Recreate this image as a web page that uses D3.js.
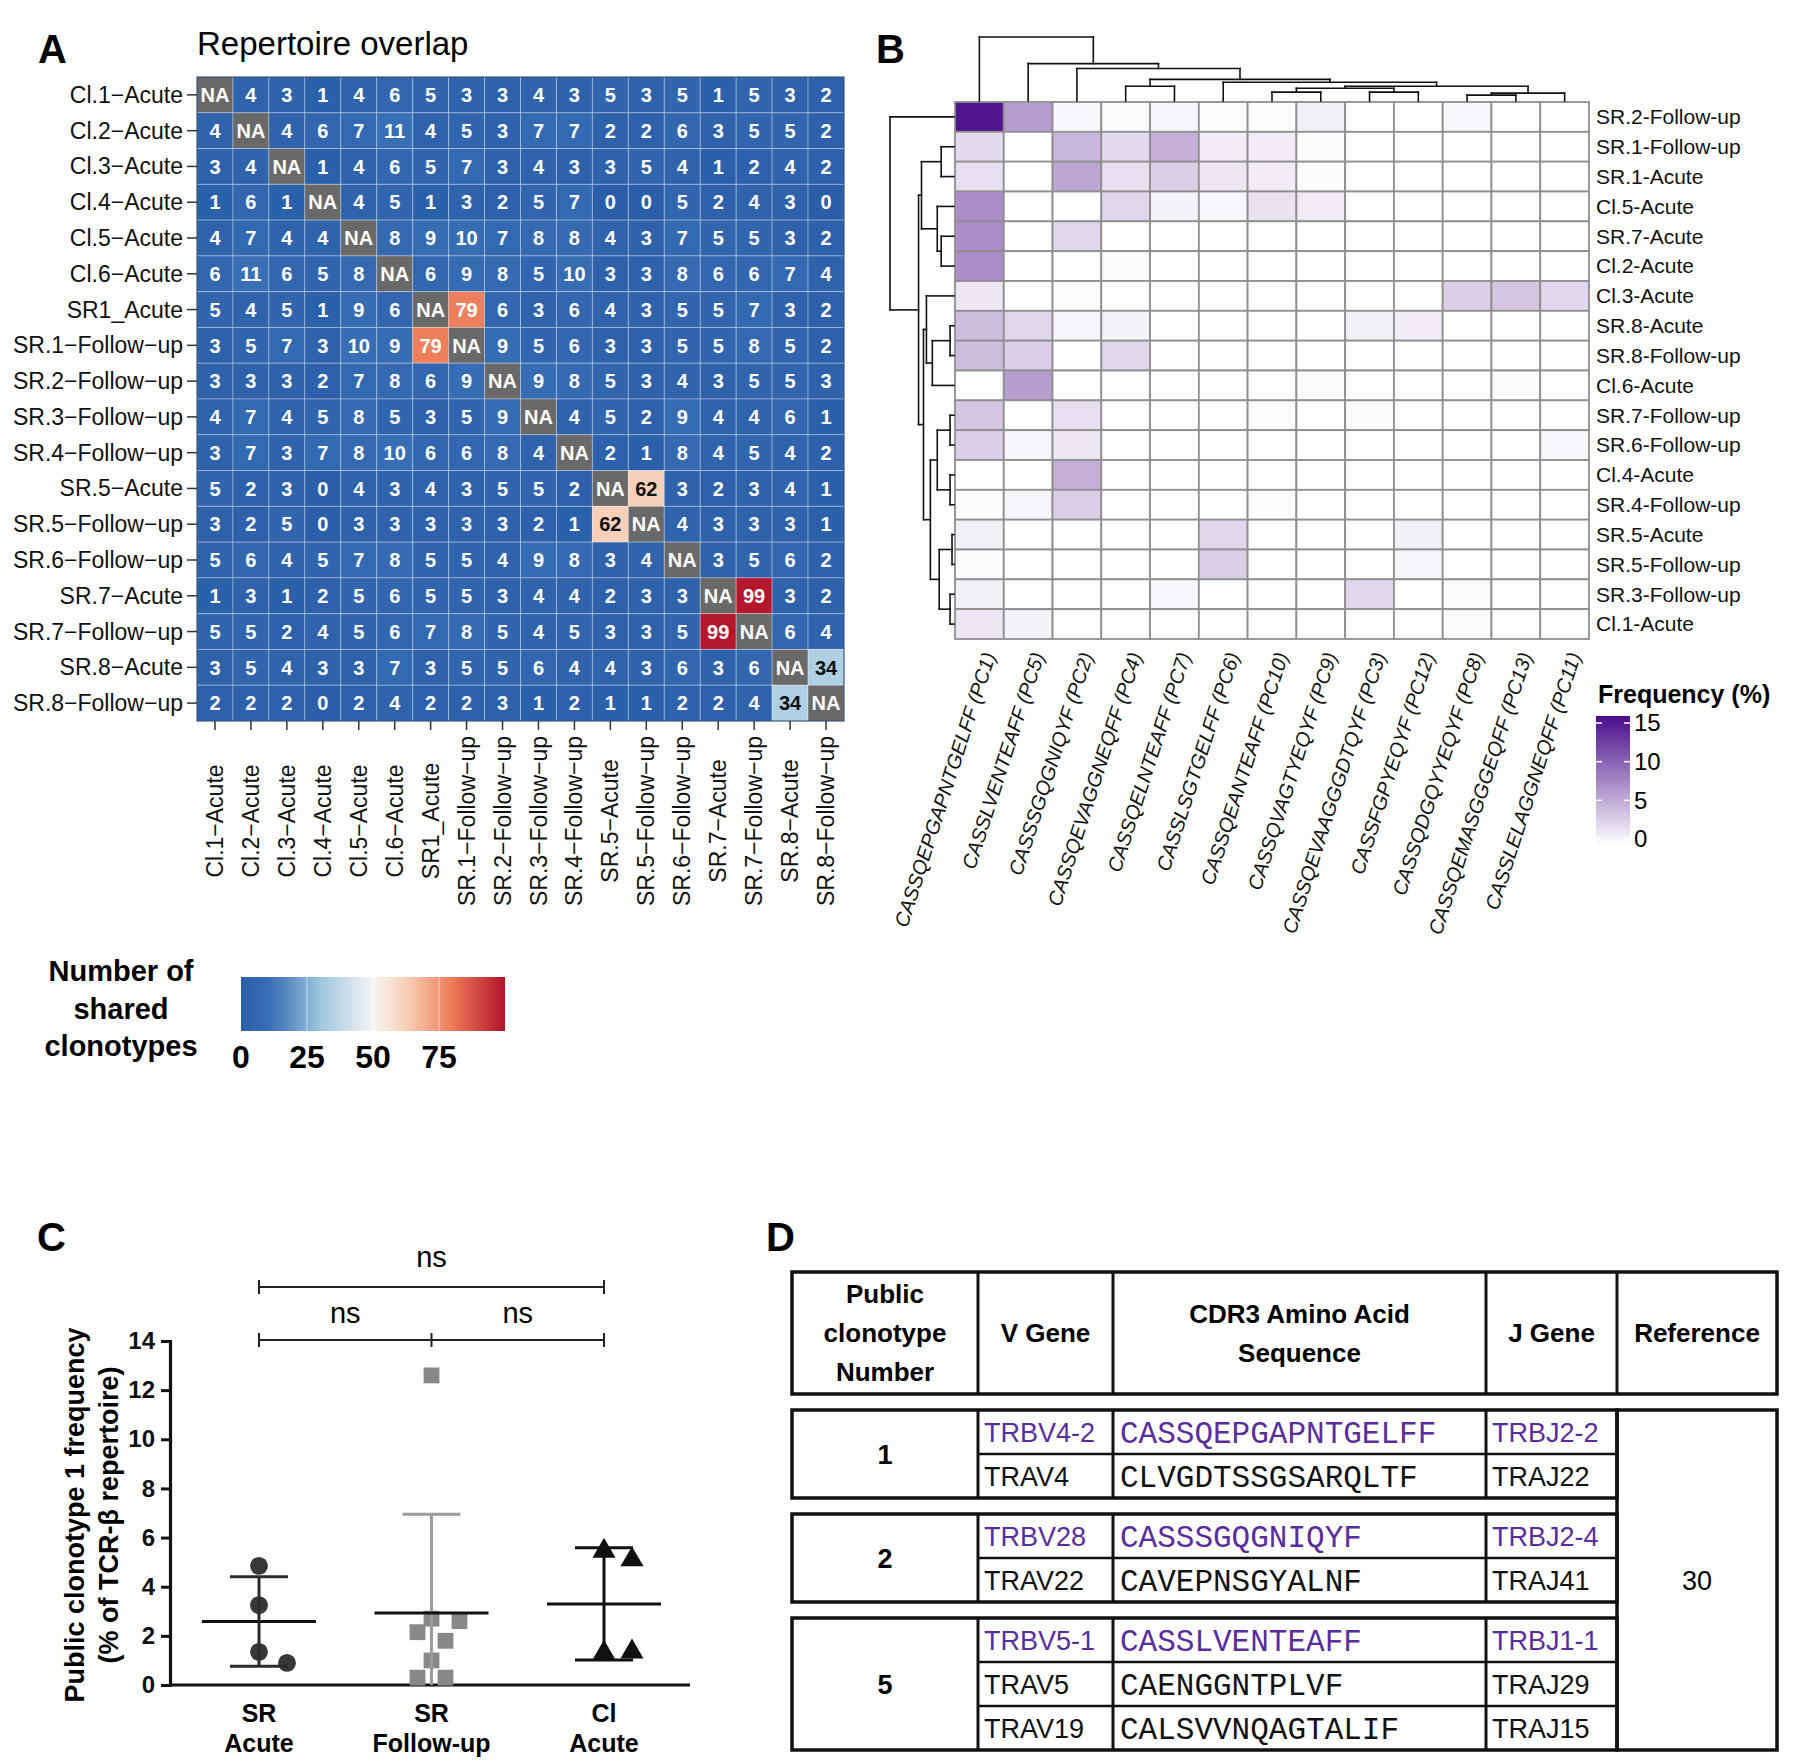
<!DOCTYPE html>
<html>
<head>
<meta charset="utf-8">
<script src="https://cdn.jsdelivr.net/npm/d3@7"></script>
<style>
body { margin:0; background:#fff; }
svg { display:block; font-family:"Liberation Sans", Arial, sans-serif; }
</style>
</head>
<body>
<svg id="fig" width="1800" height="1761"></svg>
<script>
// ---------- panel A : repertoire overlap ----------
var samples = ["Cl.1-Acute","Cl.2-Acute","Cl.3-Acute","Cl.4-Acute","Cl.5-Acute","Cl.6-Acute","SR1_Acute",
  "SR.1-Follow-up","SR.2-Follow-up","SR.3-Follow-up","SR.4-Follow-up","SR.5-Acute","SR.5-Follow-up",
  "SR.6-Follow-up","SR.7-Acute","SR.7-Follow-up","SR.8-Acute","SR.8-Follow-up"];
var overlap = [
  [null,4,3,1,4,6,5,3,3,4,3,5,3,5,1,5,3,2],
  [4,null,4,6,7,11,4,5,3,7,7,2,2,6,3,5,5,2],
  [3,4,null,1,4,6,5,7,3,4,3,3,5,4,1,2,4,2],
  [1,6,1,null,4,5,1,3,2,5,7,0,0,5,2,4,3,0],
  [4,7,4,4,null,8,9,10,7,8,8,4,3,7,5,5,3,2],
  [6,11,6,5,8,null,6,9,8,5,10,3,3,8,6,6,7,4],
  [5,4,5,1,9,6,null,79,6,3,6,4,3,5,5,7,3,2],
  [3,5,7,3,10,9,79,null,9,5,6,3,3,5,5,8,5,2],
  [3,3,3,2,7,8,6,9,null,9,8,5,3,4,3,5,5,3],
  [4,7,4,5,8,5,3,5,9,null,4,5,2,9,4,4,6,1],
  [3,7,3,7,8,10,6,6,8,4,null,2,1,8,4,5,4,2],
  [5,2,3,0,4,3,4,3,5,5,2,null,62,3,2,3,4,1],
  [3,2,5,0,3,3,3,3,3,2,1,62,null,4,3,3,3,1],
  [5,6,4,5,7,8,5,5,4,9,8,3,4,null,3,5,6,2],
  [1,3,1,2,5,6,5,5,3,4,4,2,3,3,null,99,3,2],
  [5,5,2,4,5,6,7,8,5,4,5,3,3,5,99,null,6,4],
  [3,5,4,3,3,7,3,5,5,6,4,4,3,6,3,6,null,34],
  [2,2,2,0,2,4,2,2,3,1,2,1,1,2,2,4,34,null]
];
var overlapTicks = [0,25,50,75];
var overlapMax = 100;
var overlapStops = [0,12,30,50,65,80,100];
var overlapStopColors = ["#2a5ea9","#3a70b5","#9ec5e0","#f5f5f5","#f9c6aa","#ec7a58","#b2132a"];

// ---------- panel B : public clonotype frequency ----------
var freqRows = ["SR.2-Follow-up","SR.1-Follow-up","SR.1-Acute","Cl.5-Acute","SR.7-Acute","Cl.2-Acute",
  "Cl.3-Acute","SR.8-Acute","SR.8-Follow-up","Cl.6-Acute","SR.7-Follow-up","SR.6-Follow-up",
  "Cl.4-Acute","SR.4-Follow-up","SR.5-Acute","SR.5-Follow-up","SR.3-Follow-up","Cl.1-Acute"];
var freqCols = ["CASSQEPGAPNTGELFF (PC1)","CASSLVENTEAFF (PC5)","CASSSGQGNIQYF (PC2)","CASSQEVAGGNEQFF (PC4)",
  "CASSQELNTEAFF (PC7)","CASSLSGTGELFF (PC6)","CASSQEANTEAFF (PC10)","CASSQVAGTYEQYF (PC9)",
  "CASSQEVAAGGGDTQYF (PC3)","CASSFGPYEQYF (PC12)","CASSQDGQYYEQYF (PC8)","CASSQEMASGGGEQFF (PC13)",
  "CASSLELAGGNEQFF (PC11)"];
var freq = [
  [14.5,6,0.5,0.3,0.6,0.1,0.2,1.0,0,0,0.5,0,0],
  [2.2,0,4.5,2.2,5,1.2,1.2,0.3,0,0,0,0,0],
  [2,0,5.5,2,3,1.5,1.2,0.3,0,0,0,0,0],
  [7,0,0,2.5,0.8,0.5,1.8,1.2,0,0,0,0,0],
  [7,0,2.5,0,0,0,0,0,0,0,0,0,0],
  [7,0,0,0.4,0,0,0,0,0,0,0,0,0],
  [1.5,0,0.2,0,0,0,0,0,0,0,3,3.5,2.5],
  [4,2.5,0.6,0.8,0,0,0,0,1,1.2,0,0,0],
  [4,3,0,2.5,0,0,0,0,0,0,0,0,0],
  [0,6,0,0,0,0,0,0.4,0,0,0,0.3,0],
  [3.5,0,2,0,0,0,0.2,0,0.3,0,0,0,0],
  [3,0.6,1.5,0,0,0,0,0,0,0,0,0,0.5],
  [0,0,5,0,0,0,0,0,0,0,0,0,0],
  [0.3,0.7,3,0,0,0,0.2,0,0,0,0,0,0],
  [1,0,0,0,0,2.5,0,0,0,1,0,0,0],
  [0.3,0,0,0,0,3,0,0,0,0.6,0,0,0],
  [1,0,0,0,0.5,0,0,0,2.5,0,0.4,0,0],
  [1.5,0.8,0,0,0,0,0,0,0,0,0.3,0,0]
];
var freqTicks = [0,5,10,15];
// dendrograms: [merge height, left, right]; leaves are display indices
var colTree = [65,0,[38,1,[33,2,[22,[15,3,4],[19,5,[15,[13,[9,6,7],[9,8,9]],[8,[6,10,11],12]]]]]]];
var rowTree = [65,0,[36,[33,[13,1,2],[17,3,[13,4,5]]],
  [31,[28,6,[22,[4,7,8],9]],[24,[17,[4,10,11],[4,12,13]],[15,[2,14,15],[4,16,17]]]]]];

// ---------- panel C : public clonotype 1 frequency ----------
var groupsC = [["SR","Acute"],["SR","Follow-up"],["Cl","Acute"]];
var srAcute = [4.85,3.25,1.35,0.9];
var srFollow = [12.6,2.7,2.6,2.15,1.8,1.0,0.3,0.3];
var clAcute = [5.45,5.1,1.3,1.35];
var yTicksC = [0,2,4,6,8,10,12,14];
var compsC = [[0,2,"ns"],[0,1,"ns"],[1,2,"ns"]];

// ---------- panel D : table ----------
var tableHeader = [["Public","clonotype","Number"],["V Gene"],["CDR3 Amino Acid","Sequence"],["J Gene"],["Reference"]];
var clonotypes = [
  {num:"1", rows:[["TRBV4-2","CASSQEPGAPNTGELFF","TRBJ2-2"],["TRAV4","CLVGDTSSGSARQLTF","TRAJ22"]]},
  {num:"2", rows:[["TRBV28","CASSSGQGNIQYF","TRBJ2-4"],["TRAV22","CAVEPNSGYALNF","TRAJ41"]]},
  {num:"5", rows:[["TRBV5-1","CASSLVENTEAFF","TRBJ1-1"],["TRAV5","CAENGGNTPLVF","TRAJ29"],["TRAV19","CALSVVNQAGTALIF","TRAJ15"]]}
];
var referenceNo = "30";

var svg = d3.select("#fig");
var defs = svg.append("defs");
function minus(s){ return s.replace(/-/g,"\u2212"); }

// ================= A =================
var gA = svg.append("g");
gA.append("text").attr("x",38).attr("y",63).attr("font-size",40).attr("font-weight","bold").text("A");
gA.append("text").attr("x",197).attr("y",55).attr("font-size",33).text("Repertoire overlap");

var xA = d3.scaleBand().domain(d3.range(samples.length)).range([197,844]);
var yA = d3.scaleBand().domain(d3.range(samples.length)).range([77,721]);
var colA = d3.scaleLinear().domain(overlapStops).range(overlapStopColors).clamp(true);

var cellsA = [];
overlap.forEach(function(row,i){ row.forEach(function(v,j){ cellsA.push({i:i,j:j,v:v}); }); });

gA.selectAll("rect.cell").data(cellsA).enter().append("rect")
  .attr("x",d=>xA(d.j)).attr("y",d=>yA(d.i))
  .attr("width",xA.bandwidth()).attr("height",yA.bandwidth())
  .attr("fill",d=>d.v===null?"#696969":colA(d.v))
  .attr("stroke","rgba(255,255,255,0.3)").attr("stroke-width",1);
gA.append("rect").attr("x",197).attr("y",77).attr("width",647).attr("height",644)
  .attr("fill","none").attr("stroke","#1e3a66").attr("stroke-width",1);
gA.selectAll("text.val").data(cellsA).enter().append("text")
  .attr("x",d=>xA(d.j)+xA.bandwidth()/2).attr("y",d=>yA(d.i)+yA.bandwidth()/2)
  .attr("dy","0.36em").attr("text-anchor","middle")
  .attr("font-size",20).attr("font-weight","bold")
  .attr("fill",d=>(d.v!==null && d.v>25 && d.v<70)?"#111":"#fff")
  .text(d=>d.v===null?"NA":d.v);

// row labels + ticks
gA.selectAll("text.rl").data(samples).enter().append("text")
  .attr("x",183).attr("y",(d,i)=>yA(i)+yA.bandwidth()/2).attr("dy","0.35em")
  .attr("text-anchor","end").attr("font-size",23).attr("fill","#111").text(d=>minus(d));
gA.selectAll("line.rt").data(samples).enter().append("line")
  .attr("x1",187).attr("x2",197).attr("y1",(d,i)=>yA(i)+yA.bandwidth()/2).attr("y2",(d,i)=>yA(i)+yA.bandwidth()/2)
  .attr("stroke","#333").attr("stroke-width",1.5);
// column labels + ticks
gA.selectAll("line.ct").data(samples).enter().append("line")
  .attr("x1",(d,i)=>xA(i)+xA.bandwidth()/2).attr("x2",(d,i)=>xA(i)+xA.bandwidth()/2)
  .attr("y1",721).attr("y2",730).attr("stroke","#333").attr("stroke-width",1.5);
gA.selectAll("text.cl").data(samples).enter().append("text")
  .attr("transform",(d,i)=>"translate("+(xA(i)+xA.bandwidth()/2)+",821) rotate(-90)")
  .attr("dy","0.35em").attr("text-anchor","middle").attr("font-size",23).attr("fill","#111")
  .text(d=>minus(d));

// legend A
var legA = svg.append("g");
["Number of","shared","clonotypes"].forEach(function(t,k){
  legA.append("text").attr("x",121).attr("y",971+k*37.5).attr("dy","0.35em")
    .attr("text-anchor","middle").attr("font-size",29).attr("font-weight","bold").text(t);
});
var xLegA = d3.scaleLinear().domain([0,overlapMax]).range([241,505]);
var gradA = defs.append("linearGradient").attr("id","gradA");
d3.range(0,overlapMax+1,5).forEach(function(v){
  gradA.append("stop").attr("offset",(v/overlapMax*100)+"%").attr("stop-color",colA(v));
});
legA.append("rect").attr("x",241).attr("y",977).attr("width",264).attr("height",54).attr("fill","url(#gradA)");
legA.selectAll("line.t").data(overlapTicks.slice(1)).enter().append("line")
  .attr("x1",d=>xLegA(d)).attr("x2",d=>xLegA(d)).attr("y1",977).attr("y2",1031)
  .attr("stroke","rgba(255,255,255,0.6)").attr("stroke-width",1);
legA.selectAll("text.t").data(overlapTicks).enter().append("text")
  .attr("x",d=>xLegA(d)).attr("y",1057).attr("dy","0.35em").attr("text-anchor","middle")
  .attr("font-size",32).attr("font-weight","bold").text(d=>d);

// ================= B =================
var gB = svg.append("g");
gB.append("text").attr("x",876).attr("y",63).attr("font-size",40).attr("font-weight","bold").text("B");
var xB = d3.scaleBand().domain(d3.range(freqCols.length)).range([955,1589]);
var yB = d3.scaleBand().domain(d3.range(freqRows.length)).range([102,639]);
var colB = d3.scaleLinear().domain([0,15]).range(["#ffffff","#4a0d8a"]).clamp(true);

var cellsB = [];
freq.forEach(function(row,i){ row.forEach(function(v,j){ cellsB.push({i:i,j:j,v:v}); }); });
gB.selectAll("rect.cell").data(cellsB).enter().append("rect")
  .attr("x",d=>xB(d.j)).attr("y",d=>yB(d.i))
  .attr("width",xB.bandwidth()).attr("height",yB.bandwidth())
  .attr("fill",d=>colB(d.v)).attr("stroke","#8f8f8f").attr("stroke-width",1.8);

gB.selectAll("text.rl").data(freqRows).enter().append("text")
  .attr("x",1596).attr("y",(d,i)=>yB(i)+yB.bandwidth()/2).attr("dy","0.35em")
  .attr("font-size",21).attr("fill","#111").text(d=>d);
gB.selectAll("text.cl").data(freqCols).enter().append("text")
  .attr("transform",(d,i)=>"translate("+(xB(i)+xB.bandwidth()/2+10)+",653) rotate(-72)")
  .attr("dy","0.35em").attr("text-anchor","end").attr("font-size",20)
  .attr("font-style","italic").attr("fill","#111").text(d=>d);

function drawTree(g, tree, leafPos, hScale, sideways){
  function walk(node){
    if (typeof node === "number") return [leafPos(node), 0];
    var a = walk(node[1]), b = walk(node[2]), h = node[0];
    [[a[0],a[1],a[0],h],[b[0],b[1],b[0],h],[a[0],h,b[0],h]].forEach(function(s){
      var p = sideways ? [hScale(s[1]),s[0],hScale(s[3]),s[2]] : [s[0],hScale(s[1]),s[2],hScale(s[3])];
      g.append("line").attr("x1",p[0]).attr("y1",p[1]).attr("x2",p[2]).attr("y2",p[3]);
    });
    return [(a[0]+b[0])/2, h];
  }
  walk(tree);
}
var gTreeTop = gB.append("g").attr("stroke","#111").attr("stroke-width",1.6).attr("stroke-linecap","square");
drawTree(gTreeTop, colTree, i=>xB(i)+xB.bandwidth()/2, d3.scaleLinear().domain([0,65]).range([101,37]), false);
var gTreeLeft = gB.append("g").attr("stroke","#111").attr("stroke-width",1.6).attr("stroke-linecap","square");
drawTree(gTreeLeft, rowTree, i=>yB(i)+yB.bandwidth()/2, d3.scaleLinear().domain([0,65]).range([954,890]), true);

// legend B
gB.append("text").attr("x",1598).attr("y",703).attr("font-size",25).attr("font-weight","bold").text("Frequency (%)");
var yLegB = d3.scaleLinear().domain([0,15]).range([839,723]);
var gradB = defs.append("linearGradient").attr("id","gradB")
  .attr("x1",0).attr("y1",1).attr("x2",0).attr("y2",0);
gradB.append("stop").attr("offset","0%").attr("stop-color",colB(0));
gradB.append("stop").attr("offset","100%").attr("stop-color",colB(15));
gB.append("rect").attr("x",1596).attr("y",716).attr("width",34).attr("height",129).attr("fill","url(#gradB)");
freqTicks.forEach(function(t){
  gB.append("line").attr("x1",1596).attr("x2",1602).attr("y1",yLegB(t)).attr("y2",yLegB(t)).attr("stroke","#fff").attr("stroke-width",1.5);
  gB.append("line").attr("x1",1624).attr("x2",1630).attr("y1",yLegB(t)).attr("y2",yLegB(t)).attr("stroke","#fff").attr("stroke-width",1.5);
  gB.append("text").attr("x",1634).attr("y",yLegB(t)).attr("dy","0.35em").attr("font-size",24).text(t);
});

// ================= C =================
var gC = svg.append("g");
gC.append("text").attr("x",37).attr("y",1251).attr("font-size",40).attr("font-weight","bold").text("C");
var yC = d3.scaleLinear().domain([0,14]).range([1685,1341]);
var xC = d3.scalePoint().domain(d3.range(groupsC.length)).range([259,604]);

var axisY = gC.append("g").attr("transform","translate(170,0)")
  .call(d3.axisLeft(yC).tickValues(yTicksC).tickSize(9).tickPadding(6));
axisY.select(".domain").attr("stroke","#111").attr("stroke-width",3.2);
axisY.selectAll(".tick line").attr("stroke","#111").attr("stroke-width",3);
axisY.selectAll(".tick text").attr("font-size",24).attr("font-weight","bold").attr("fill","#111")
  .attr("font-family","Liberation Sans, Arial, sans-serif");
gC.append("line").attr("x1",170).attr("x2",690).attr("y1",1685).attr("y2",1685)
  .attr("stroke","#111").attr("stroke-width",3.2);

groupsC.forEach(function(g,i){
  g.forEach(function(t,k){
    gC.append("text").attr("x",xC(i)).attr("y",1713+k*30).attr("dy","0.35em").attr("text-anchor","middle")
      .attr("font-size",25).attr("font-weight","bold").text(t);
  });
});
var yTitle = gC.append("text").attr("transform","translate(75,1515) rotate(-90)")
  .attr("text-anchor","middle").attr("font-size",27).attr("font-weight","bold");
yTitle.append("tspan").attr("x",0).attr("dy","0.35em").text("Public clonotype 1 frequency");
yTitle.append("tspan").attr("x",0).attr("dy","1.25em").text("(% of TCR-\u03b2 repertoire)");

function dodge(vals, r, step){
  var placed = [];
  return vals.map(function(v){
    var cy = yC(v), offs = [0,1,-1,2,-2,3,-3];
    for (var k=0;k<offs.length;k++){
      var cx = offs[k]*step;
      if (placed.every(p=>Math.hypot(p[0]-cx,p[1]-cy) >= 2*r)) { placed.push([cx,cy]); return cx; }
    }
    return 0;
  });
}
var seriesC = [
  {vals:srAcute, sym:d3.symbolCircle, fill:"#383838", bar:"#2b2b2b"},
  {vals:srFollow, sym:d3.symbolSquare, fill:"#888888", bar:"#9a9a9a"},
  {vals:clAcute, sym:d3.symbolTriangle, fill:"#111111", bar:"#111111"}
];
seriesC.forEach(function(s,i){
  var cx = xC(i), m = d3.mean(s.vals), sd = d3.deviation(s.vals);
  var lo = Math.max(0, m-sd), hi = m+sd;
  var offs = dodge(s.vals, 9, 14);
  gC.selectAll(null).data(s.vals).enter().append("path")
    .attr("d", d3.symbol().type(s.sym).size(i===2?230:250))
    .attr("transform",(d,k)=>"translate("+(cx+offs[k])+","+yC(d)+")")
    .attr("fill",s.fill);
  gC.append("line").attr("x1",cx).attr("x2",cx).attr("y1",yC(lo)).attr("y2",yC(hi)).attr("stroke",s.bar).attr("stroke-width",3);
  gC.append("line").attr("x1",cx-29).attr("x2",cx+29).attr("y1",yC(hi)).attr("y2",yC(hi)).attr("stroke",s.bar).attr("stroke-width",3);
  if (m-sd > 0) gC.append("line").attr("x1",cx-29).attr("x2",cx+29).attr("y1",yC(lo)).attr("y2",yC(lo)).attr("stroke",s.bar).attr("stroke-width",3);
  gC.append("line").attr("x1",cx-57).attr("x2",cx+57).attr("y1",yC(m)).attr("y2",yC(m)).attr("stroke","#111").attr("stroke-width",3);
});

// significance brackets
var brTop = 1287, brLow = 1340;
gC.append("line").attr("x1",xC(0)).attr("x2",xC(2)).attr("y1",brTop).attr("y2",brTop).attr("stroke","#222").attr("stroke-width",2);
gC.append("line").attr("x1",xC(0)).attr("x2",xC(2)).attr("y1",brLow).attr("y2",brLow).attr("stroke","#222").attr("stroke-width",2);
[[brTop,[0,2]],[brLow,[0,1,2]]].forEach(function(b){
  b[1].forEach(function(i){
    gC.append("line").attr("x1",xC(i)).attr("x2",xC(i)).attr("y1",b[0]-7).attr("y2",b[0]+7).attr("stroke","#222").attr("stroke-width",2);
  });
});
compsC.forEach(function(c){
  var wide = (c[1]-c[0])===2;
  gC.append("text").attr("x",(xC(c[0])+xC(c[1]))/2).attr("y",wide?1257:1313).attr("dy","0.35em")
    .attr("text-anchor","middle").attr("font-size",29).text(c[2]);
});

// ================= D =================
var gD = svg.append("g");
gD.append("text").attr("x",766).attr("y",1251).attr("font-size",40).attr("font-weight","bold").text("D");
var colEdges = [792,978,1113,1486,1617,1777];
var hdrTop = 1272, hdrBot = 1394, bodyTop = 1410, rowH = 44, gapH = 16;
var purple = "#5a2d9c";

gD.append("rect").attr("x",colEdges[0]).attr("y",hdrTop).attr("width",colEdges[5]-colEdges[0]).attr("height",hdrBot-hdrTop)
  .attr("fill","none").attr("stroke","#111").attr("stroke-width",3.5);
colEdges.slice(1,5).forEach(function(x){
  gD.append("line").attr("x1",x).attr("x2",x).attr("y1",hdrTop).attr("y2",hdrBot).attr("stroke","#111").attr("stroke-width",3);
});
tableHeader.forEach(function(lines,c){
  var cx = (colEdges[c]+colEdges[c+1])/2, mid = (hdrTop+hdrBot)/2, lh = 39;
  lines.forEach(function(t,k){
    gD.append("text").attr("x",cx).attr("y",mid+(k-(lines.length-1)/2)*lh).attr("dy","0.35em")
      .attr("text-anchor","middle").attr("font-size",26).attr("font-weight","bold").text(t);
  });
});

var yCur = bodyTop;
clonotypes.forEach(function(g){
  var top = yCur, bot = top + g.rows.length*rowH;
  gD.append("rect").attr("x",colEdges[0]).attr("y",top).attr("width",colEdges[4]-colEdges[0]).attr("height",bot-top)
    .attr("fill","none").attr("stroke","#111").attr("stroke-width",3.5);
  colEdges.slice(1,4).forEach(function(x){
    gD.append("line").attr("x1",x).attr("x2",x).attr("y1",top).attr("y2",bot).attr("stroke","#111").attr("stroke-width",3);
  });
  g.rows.forEach(function(r,k){
    var ry = top + k*rowH;
    if (k>0) gD.append("line").attr("x1",colEdges[1]).attr("x2",colEdges[4]).attr("y1",ry).attr("y2",ry)
      .attr("stroke","#111").attr("stroke-width",2.5);
    var fill = k===0 ? purple : "#111";
    gD.append("text").attr("x",colEdges[1]+6).attr("y",ry+rowH/2).attr("dy","0.36em")
      .attr("font-size",27).attr("fill",fill).text(r[0]);
    gD.append("text").attr("x",colEdges[2]+7).attr("y",ry+rowH/2).attr("dy","0.36em")
      .attr("font-size",31).attr("font-family","Liberation Mono, Courier New, monospace").attr("fill",fill).text(r[1]);
    gD.append("text").attr("x",colEdges[3]+6).attr("y",ry+rowH/2).attr("dy","0.36em")
      .attr("font-size",27).attr("fill",fill).text(r[2]);
  });
  gD.append("text").attr("x",(colEdges[0]+colEdges[1])/2).attr("y",(top+bot)/2).attr("dy","0.36em")
    .attr("text-anchor","middle").attr("font-size",27).attr("font-weight","bold").text(g.num);
  yCur = bot + gapH;
});
var bodyBot = yCur - gapH;
gD.append("rect").attr("x",colEdges[4]).attr("y",bodyTop).attr("width",colEdges[5]-colEdges[4]).attr("height",bodyBot-bodyTop)
  .attr("fill","none").attr("stroke","#111").attr("stroke-width",3.5);
gD.append("text").attr("x",(colEdges[4]+colEdges[5])/2).attr("y",(bodyTop+bodyBot)/2).attr("dy","0.36em")
  .attr("text-anchor","middle").attr("font-size",27).text(referenceNo);
</script>
</body>
</html>
